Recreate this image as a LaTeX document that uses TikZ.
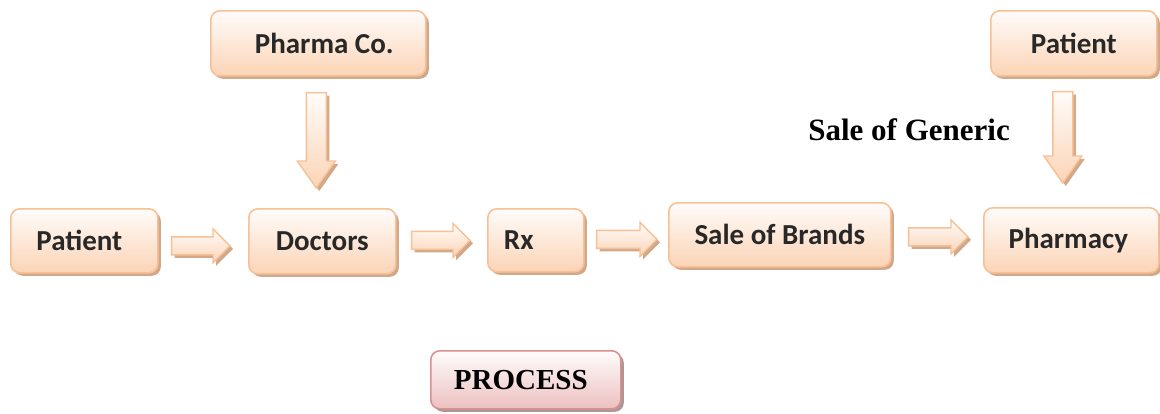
\documentclass[tikz,border=0pt]{standalone}
\usepackage{fontspec}
\setmainfont{Liberation Serif}
\newfontfamily\boxfont{Carlito}
\usetikzlibrary{calc,shadows}
\definecolor{boxborder}{RGB}{248,192,148}
\definecolor{boxtop}{RGB}{255,252,250}
\definecolor{boxbot}{RGB}{251,212,182}
\definecolor{shadowc}{RGB}{208,168,138}
\definecolor{txt}{RGB}{40,40,40}
\definecolor{procborder}{RGB}{215,145,145}
\definecolor{proctop}{RGB}{255,252,252}
\definecolor{procbot}{RGB}{236,192,192}
\definecolor{procshadow}{RGB}{175,150,150}
\tikzset{
  stagebox/.style={draw=boxborder, line width=1.6pt, rounded corners=9pt,
    top color=boxtop, bottom color=boxbot,
    drop shadow={shadow xshift=3pt, shadow yshift=-3pt, fill=shadowc, opacity=1},
    font=\boxfont\bfseries\fontsize{29}{33}\selectfont, text=txt,
    inner sep=0pt, anchor=north west},
  procbox/.style={draw=procborder, line width=1.6pt, rounded corners=9pt,
    top color=proctop, bottom color=procbot,
    drop shadow={shadow xshift=3pt, shadow yshift=-3pt, fill=procshadow, opacity=1},
    font=\bfseries\fontsize{29}{33}\selectfont, text=black,
    inner sep=0pt, anchor=north west},
  blockarrow/.style={draw=boxborder, line width=1.4pt,
    top color=boxtop, bottom color=boxbot,
    drop shadow={shadow xshift=3pt, shadow yshift=-3pt, fill=shadowc, opacity=1}},
  plainlabel/.style={font=\bfseries\fontsize{31}{35}\selectfont, text=black, inner sep=0pt}
}
\newcommand{\harr}[2]{%
  \draw[blockarrow] let \p1=(#1), \p2=(#2) in
    (\x1,\y1+9pt) -- (\x2-17pt,\y1+9pt) -- (\x2-17pt,\y1+17pt) -- (\x2,\y1)
    -- (\x2-17pt,\y1-17pt) -- (\x2-17pt,\y1-9pt) -- (\x1,\y1-9pt) -- cycle;}
\newcommand{\varr}[2]{%
  \draw[blockarrow] let \p1=(#1), \p2=(#2) in
    (\x1-10pt,\y1) -- (\x1-10pt,\y2+27pt) -- (\x1-19pt,\y2+27pt) -- (\x1,\y2)
    -- (\x1+19pt,\y2+27pt) -- (\x1+10pt,\y2+27pt) -- (\x1+10pt,\y1) -- cycle;}
\begin{document}
\begin{tikzpicture}[x=1pt,y=-1pt]
\useasboundingbox (0,0) rectangle (1160,413);
% boxes
\node[stagebox, minimum width=215pt, minimum height=65pt] (pharma) at (210,10) {\kern12pt Pharma Co.};
\node[stagebox, minimum width=147pt, minimum height=64pt] (patientL) at (10,208) {Patient\kern10pt};
\node[stagebox, minimum width=147pt, minimum height=65pt] (doctors) at (248,208) {Doctors};
\node[stagebox, minimum width=96pt, minimum height=63pt] (rx) at (487,208) {Rx\kern34pt};
\node[stagebox, minimum width=222pt, minimum height=64pt] (brands) at (668,202) {Sale of Brands};
\node[stagebox, minimum width=175pt, minimum height=65pt] (pharmacy) at (983,207) {Pharmacy\kern6pt};
\node[stagebox, minimum width=166pt, minimum height=65pt] (patientR) at (990,10) {Patient};
\node[procbox, minimum width=190pt, minimum height=58pt] (process) at (430,350) {PROCESS\kern10pt};
\node[plainlabel, anchor=base east] (generic) at (1010,140) {Sale of Generic};
% horizontal block arrows
\coordinate (a1s) at ($(patientL.east)+(13,5)$);
\coordinate (a1e) at ($(doctors.west)+(-18,5)$);
\harr{a1s}{a1e}
\coordinate (a2s) at ($(doctors.east)+(15,-1)$);
\coordinate (a2e) at ($(rx.west)+(-17,-1)$);
\harr{a2s}{a2e}
\coordinate (a3s) at ($(rx.east)+(12,-1)$);
\coordinate (a3e) at ($(brands.west)+(-11,4)$);
\harr{a3s}{a3e}
\coordinate (a4s) at ($(brands.east)+(17,2)$);
\coordinate (a4e) at ($(pharmacy.west)+(-15,-3)$);
\harr{a4s}{a4e}
% vertical block arrows
\coordinate (v1s) at ($(pharma.south)+(-2,16)$);
\coordinate (v1e) at ($(doctors.north)+(0,-20)$);
\varr{v1s}{v1e}
\coordinate (v2s) at ($(patientR.south)+(-11,15)$);
\coordinate (v2e) at ($(pharmacy.north)+(0,-24)$);
\varr{v2s}{v2e}
\end{tikzpicture}
\end{document}
